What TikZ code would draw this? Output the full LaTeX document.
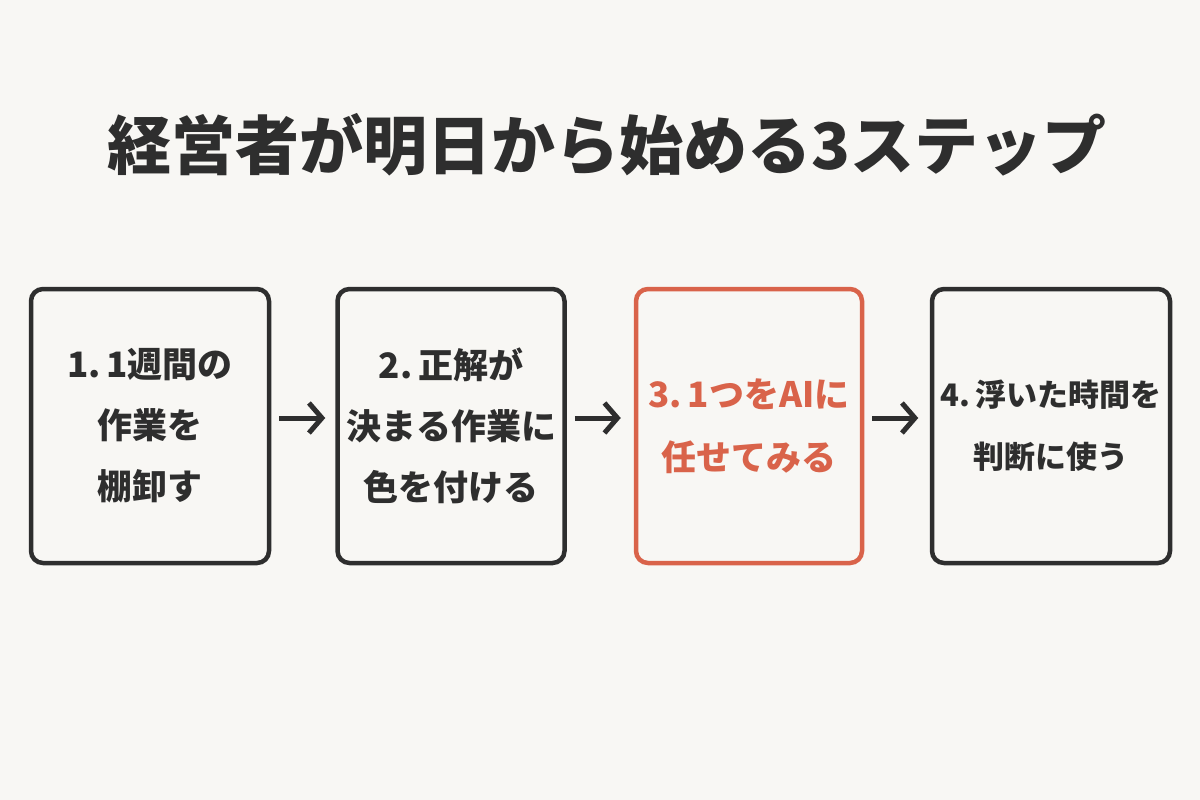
\documentclass[tikz,border=0pt]{standalone}
\usepackage{fontspec}
\setmainfont{Noto Sans CJK JP}
\usetikzlibrary{arrows.meta}
\definecolor{bg}{HTML}{F8F7F4}
\definecolor{ink}{HTML}{2E2E2E}
\definecolor{accent}{HTML}{D9634A}
\begin{document}
\begin{tikzpicture}[x=1pt,y=-1pt,
  stepbox/.style={draw=ink,line width=4.5pt,rounded corners=12pt,minimum width=232pt,minimum height=274pt,inner sep=0pt},
  txt/.style={font=\fontsize{35}{41}\selectfont\bfseries,text=ink,align=center},
  arr/.style={draw=ink,line width=5pt,-{Straight Barb[length=13pt,width=30pt,line width=5pt]}}]
\fill[bg] (0,0) rectangle (1200,800);
\node[font=\fontsize{64}{74}\selectfont\bfseries,text=ink] (title) at (607,145) {経営者が明日から始める3ステップ};
\node[stepbox,minimum width=238pt] (b1) at (150,426) {};
\node[stepbox,minimum width=227pt] (b2) at (451,426) {};
\node[stepbox,draw=accent,minimum width=226pt] (b3) at (749,426) {};
\node[stepbox,minimum width=238pt] (b4) at (1051,426) {};
\node[txt] (t1) at (b1) {1.\,1週間の\\[20pt]作業を\\[20pt]棚卸す};
\node[txt] (t2) at (b2) {2.\,正解が\\[20pt]決まる作業に\\[20pt]色を付ける};
\node[txt,text=accent] (t3) at (b3) {3.\,1つをAIに\\[22pt]任せてみる};
\node[txt,font=\fontsize{31}{38}\selectfont\bfseries] (t4) at (b4) {4.\,浮いた時間を\\[24pt]判断に使う};
\draw[arr] (b1.east)++(8,-8) -- ++(46,0);
\draw[arr] (b2.east)++(8,-8) -- ++(46,0);
\draw[arr] (b3.east)++(8,-8) -- ++(46,0);
\end{tikzpicture}
\end{document}
